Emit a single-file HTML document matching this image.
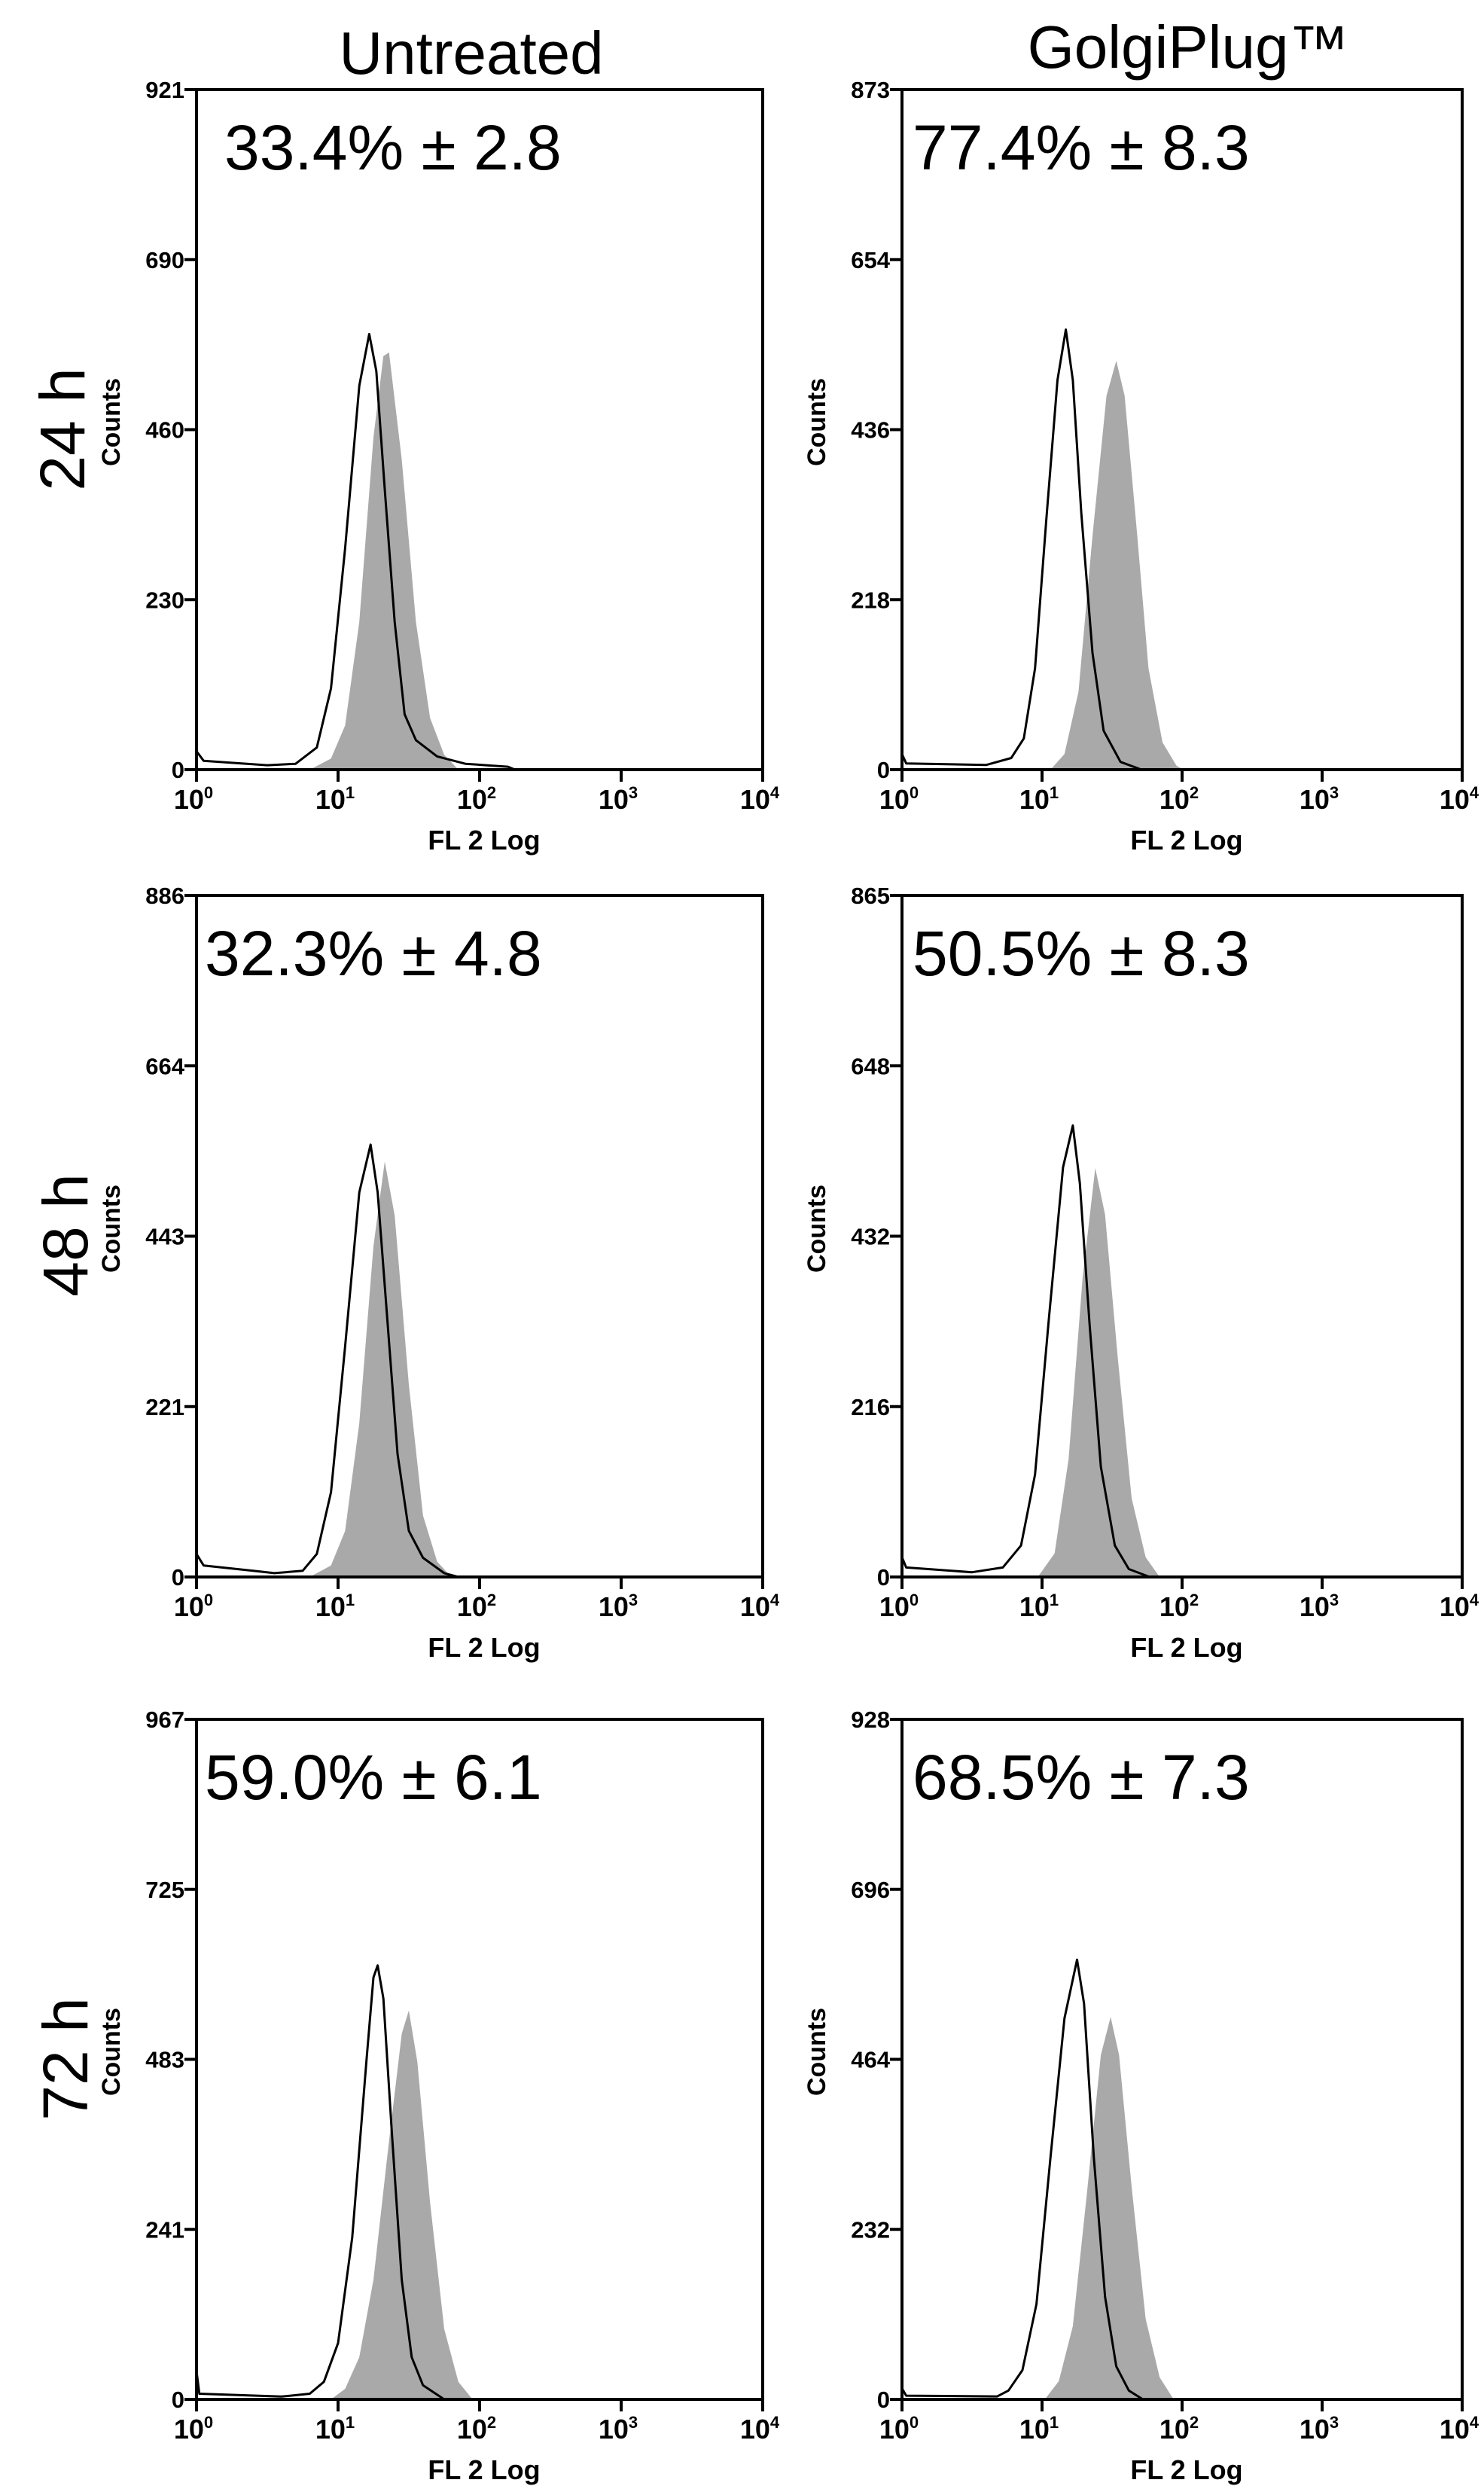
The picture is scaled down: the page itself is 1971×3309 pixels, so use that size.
<!DOCTYPE html>
<html><head><meta charset="utf-8"><style>
html,body{margin:0;padding:0;background:#fff;}
svg{display:block;}
text{font-family:"Liberation Sans",Arial,sans-serif;}
</style></head><body>
<svg id="fig" width="1971" height="3309" viewBox="0 0 1971 3309" xmlns="http://www.w3.org/2000/svg">
<text x="626" y="98" font-size="80" text-anchor="middle">Untreated</text>
<text x="1578" y="90" font-size="80" text-anchor="middle">GolgiPlug™</text>
<text transform="translate(112,570) rotate(-90)" font-size="84" text-anchor="middle">24 h</text>
<text transform="translate(116,1640) rotate(-90)" font-size="84" text-anchor="middle">48 h</text>
<text transform="translate(116,2734) rotate(-90)" font-size="84" text-anchor="middle">72 h</text>
</svg>
<script>
const panelTitles = ["24h-untreated","24h-golgiplug","48h-untreated","48h-golgiplug","72h-untreated","72h-golgiplug"];
const yMax = [921, 873, 886, 865, 967, 928];
const percentLabels = ["33.4% ± 2.8","77.4% ± 8.3","32.3% ± 4.8","50.5% ± 8.3","59.0% ± 6.1","68.5% ± 7.3"];
const xTickLabels = ["0","1","2","3","4"];

const outlineX1 = [0,0.05,0.5,0.7,0.85,0.95,1.05,1.15,1.22,1.27,1.33,1.4,1.47,1.55,1.7,1.9,2.2,2.25];
const outlineY1 = [25,12,6,8,30,110,300,520,590,540,380,200,75,40,18,8,4,0];
const grayX1 = [0.8,0.95,1.05,1.15,1.25,1.32,1.36,1.45,1.55,1.65,1.75,1.85];
const grayY1 = [0,15,60,200,450,560,565,420,200,70,20,0];

const outlineX2 = [0,0.03,0.6,0.78,0.87,0.95,1.03,1.11,1.17,1.22,1.28,1.36,1.44,1.56,1.71];
const outlineY2 = [20,8,6,15,40,130,320,500,565,500,330,150,50,10,0];
const grayX2 = [1.06,1.16,1.26,1.36,1.46,1.53,1.59,1.68,1.76,1.86,1.96,2.01];
const grayY2 = [0,20,100,300,480,525,480,300,130,35,5,0];

const outlineX3 = [0,0.05,0.4,0.55,0.75,0.85,0.95,1.05,1.15,1.23,1.28,1.35,1.42,1.5,1.6,1.75,1.85];
const outlineY3 = [30,15,8,5,8,30,110,300,500,562,500,330,160,60,25,5,0];
const grayX3 = [0.8,0.95,1.05,1.15,1.25,1.33,1.4,1.5,1.6,1.7,1.8];
const grayY3 = [0,15,60,200,430,540,470,250,80,20,0];

const outlineX4 = [0,0.03,0.5,0.72,0.85,0.95,1.05,1.15,1.22,1.27,1.34,1.42,1.52,1.62,1.77];
const outlineY4 = [25,12,6,12,40,130,330,520,573,500,320,140,40,10,0];
const grayX4 = [0.97,1.09,1.19,1.29,1.38,1.45,1.54,1.64,1.74,1.84];
const grayY4 = [0,30,150,380,519,460,280,100,25,0];

const outlineX5 = [0,0.02,0.6,0.8,0.9,1.0,1.1,1.2,1.25,1.28,1.32,1.38,1.45,1.52,1.6,1.75];
const outlineY5 = [40,8,4,8,25,80,230,480,600,617,570,380,170,60,20,0];
const grayX5 = [0.95,1.05,1.15,1.25,1.35,1.45,1.5,1.56,1.65,1.75,1.85,1.95];
const grayY5 = [0,15,60,170,350,520,553,480,280,100,25,0];

const outlineX6 = [0,0.03,0.68,0.76,0.86,0.96,1.06,1.16,1.25,1.3,1.37,1.45,1.53,1.62,1.72];
const outlineY6 = [15,5,4,12,40,130,330,520,600,540,330,140,45,12,0];
const grayX6 = [1.02,1.12,1.22,1.32,1.42,1.49,1.55,1.64,1.74,1.84,1.94];
const grayY6 = [0,25,100,280,470,522,470,290,110,30,0];

const outlineXs=[outlineX1,outlineX2,outlineX3,outlineX4,outlineX5,outlineX6];
const outlineYs=[outlineY1,outlineY2,outlineY3,outlineY4,outlineY5,outlineY6];
const grayXs=[grayX1,grayX2,grayX3,grayX4,grayX5,grayX6];
const grayYs=[grayY1,grayY2,grayY3,grayY4,grayY5,grayY6];

const boxes=[[261,1013,119,1022],[1198,1942,119,1022],[261,1013,1189,2094],[1198,1942,1189,2094],[261,1013,2283,3186],[1198,1942,2283,3186]];
const pctX=[298,1212,272,1212,272,1212];
const NS="http://www.w3.org/2000/svg";
const svg=document.getElementById('fig');
function mk(tag,attrs,parent){const e=document.createElementNS(NS,tag);for(const k in attrs)e.setAttribute(k,attrs[k]);(parent||svg).appendChild(e);return e;}

boxes.forEach((b,i)=>{
  const [L,R,T,B]=b;
  const sx=v=>L+(R-L)*v/4;
  const sy=v=>B-(B-T)*v/yMax[i];
  const g=mk('g',{});
  
  
  let d='M'+sx(grayXs[i][0])+','+sy(0);
  grayXs[i].forEach((x,j)=>{d+=' L'+sx(x).toFixed(1)+','+sy(grayYs[i][j]).toFixed(1);});
  d+=' L'+sx(grayXs[i][grayXs[i].length-1])+','+sy(0)+' Z';
  const gp=mk('path',{d:d,fill:'#a9a9a9',stroke:'none'},g);
  
  
  const pts=outlineXs[i].map((x,j)=>sx(x).toFixed(1)+','+sy(outlineYs[i][j]).toFixed(1)).join(' ');
  const op=mk('polyline',{points:pts,fill:'none',stroke:'#000','stroke-width':3,'stroke-linejoin':'round'},g);
  
  
  const fr=mk('rect',{x:L,y:T,width:R-L,height:B-T,fill:'none',stroke:'#000','stroke-width':4},g);
  
  
  for(let k=0;k<=4;k++){
    const v=Math.floor(yMax[i]*k/4);
    const y=sy(yMax[i]*k/4);
    mk('line',{x1:L-16,x2:L,y1:y,y2:y,stroke:'#000','stroke-width':4},g);
    const t=mk('text',{x:L-16,y:y+11,'font-size':31,'font-weight':'bold','text-anchor':'end'},g);
    t.textContent=v;
    
    
  }
  xTickLabels.forEach((lab,k)=>{
    const x=sx(k);
    mk('line',{x1:x,x2:x,y1:B,y2:B+16,stroke:'#000','stroke-width':4},g);
    const t=mk('text',{x:x-4,y:B+52,'font-size':36,'font-weight':'bold','text-anchor':'middle'},g);
    t.textContent='10';
    const s=mk('tspan',{'font-size':22,dy:-14},t);
    s.textContent=lab;
    
    
  });
  const xl=mk('text',{x:(L+R)/2+6,y:B+106,'font-size':36,'font-weight':'bold','text-anchor':'middle'},g);
  xl.textContent='FL 2 Log';
  
  
  const yl=mk('text',{transform:'translate('+(L-102)+','+((T+B)/2-10)+') rotate(-90)','font-size':34,'font-weight':'bold','text-anchor':'middle'},g);
  yl.textContent='Counts';
  
  
  const pl=mk('text',{x:pctX[i],y:T+106,'font-size':84},g);
  pl.textContent=percentLabels[i];
  
  
});
</script>
</body></html>
